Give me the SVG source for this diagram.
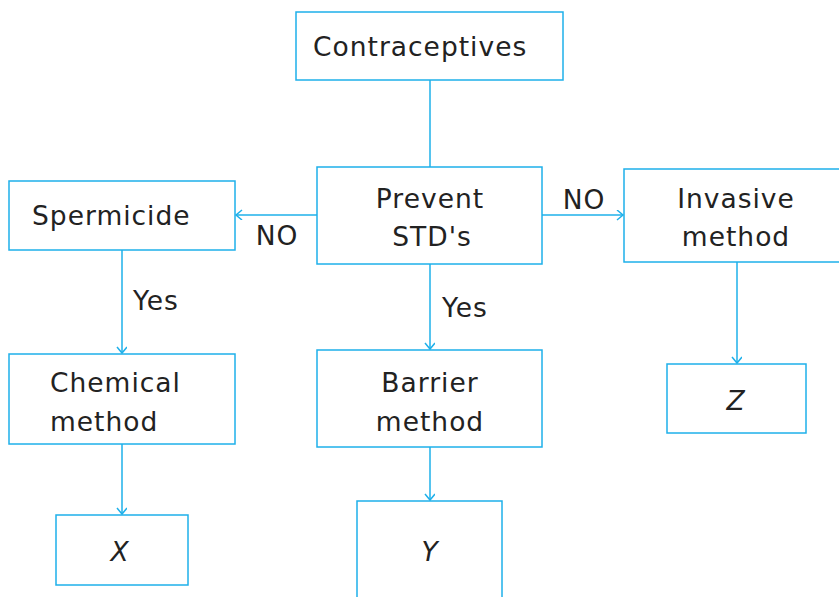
<svg xmlns="http://www.w3.org/2000/svg" width="839" height="597" viewBox="0 0 839 597">
<defs>
<style>
.box{fill:#fff;stroke:#1eb0ea;stroke-width:1.5}
.t{font-family:"DejaVu Sans","Open Sans",sans-serif;font-size:26.5px;fill:#222;letter-spacing:1px}
.c{text-anchor:middle}
.i{font-style:italic}
.ln{stroke:#1eb0ea;stroke-width:1.5;fill:none}
</style>
<marker id="ah" markerWidth="12" markerHeight="12" refX="9" refY="5" orient="auto" markerUnits="userSpaceOnUse">
<path d="M3,0 L9,5 L3,10" fill="none" stroke="#1eb0ea" stroke-width="1.5"/>
</marker>
</defs>
<rect width="839" height="597" fill="#fff"/>
<g id="connectors">
<path class="ln" d="M430,80 V167"/>
<path class="ln" d="M317,215 H236" marker-end="url(#ah)"/>
<path class="ln" d="M542,215 H623" marker-end="url(#ah)"/>
<path class="ln" d="M122,250 V353" marker-end="url(#ah)"/>
<path class="ln" d="M430,264 V349" marker-end="url(#ah)"/>
<path class="ln" d="M737,262 V363" marker-end="url(#ah)"/>
<path class="ln" d="M122,444 V514" marker-end="url(#ah)"/>
<path class="ln" d="M430,447 V500" marker-end="url(#ah)"/>
<text class="t c" x="277" y="245">NO</text>
<text class="t c" x="584" y="209">NO</text>
<text class="t" x="133" y="310">Yes</text>
<text class="t" x="442" y="317">Yes</text>
</g>
<g id="contraceptives">
<rect class="box" x="296" y="12" width="267" height="68"/>
<text class="t" x="313" y="56">Contraceptives</text>
</g>
<g id="prevent">
<rect class="box" x="317" y="167" width="225" height="97"/>
<text class="t c" x="430" y="208">Prevent</text>
<text class="t c" x="432" y="246">STD's</text>
</g>
<g id="spermicide">
<rect class="box" x="9" y="181" width="226" height="69"/>
<text class="t" x="32" y="225">Spermicide</text>
</g>
<g id="invasive">
<rect class="box" x="624" y="169" width="218" height="93"/>
<text class="t c" x="736" y="208">Invasive</text>
<text class="t c" x="736" y="246">method</text>
</g>
<g id="chemical">
<rect class="box" x="9" y="354" width="226" height="90"/>
<text class="t" x="50" y="392">Chemical</text>
<text class="t" x="50" y="431">method</text>
</g>
<g id="barrier">
<rect class="box" x="317" y="350" width="225" height="97"/>
<text class="t c" x="430" y="392">Barrier</text>
<text class="t c" x="430" y="431">method</text>
</g>
<g id="z">
<rect class="box" x="667" y="364" width="139" height="69"/>
<text class="t c i" x="736" y="410">Z</text>
</g>
<g id="x">
<rect class="box" x="56" y="515" width="132" height="70"/>
<text class="t c i" x="120" y="561">X</text>
</g>
<g id="y">
<rect class="box" x="357" y="501" width="145" height="110"/>
<text class="t c i" x="430" y="561">Y</text>
</g>
</svg>
